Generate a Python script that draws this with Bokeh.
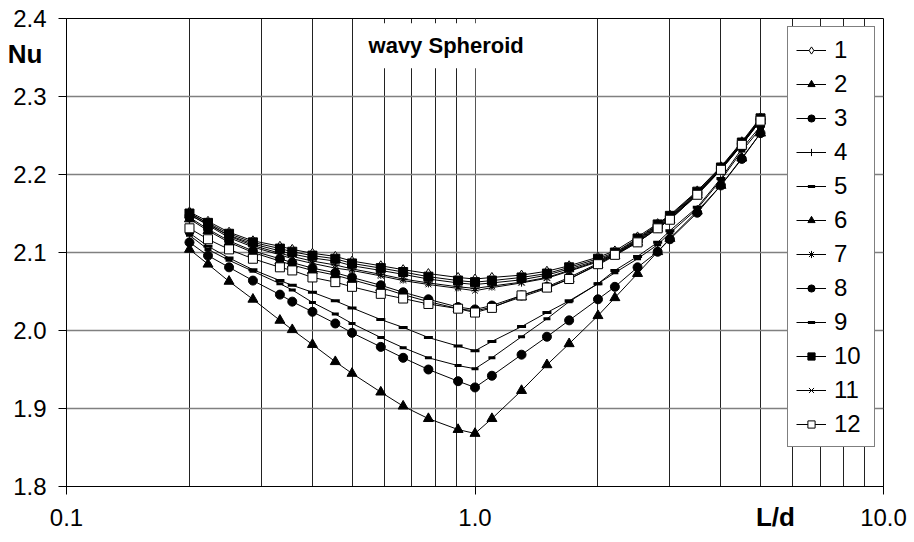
from bokeh.plotting import figure
from bokeh.models import Range1d, FixedTicker, PrintfTickFormatter, Label, LinearAxis, LogAxis
from bokeh.embed import file_html
from bokeh.resources import INLINE

# L/d values
ld = [0.2, 0.222, 0.25, 0.286, 0.333, 0.357, 0.4, 0.455, 0.5, 0.588, 0.667, 0.769, 0.909,
      1.0, 1.1, 1.3, 1.5, 1.7, 2.0, 2.2, 2.5, 2.8, 3.0, 3.5, 4.0, 4.5, 5.0]

nu1 = [2.152, 2.140, 2.126, 2.115, 2.108, 2.104, 2.099, 2.095, 2.089, 2.083, 2.078, 2.073, 2.068,
       2.066, 2.068, 2.071, 2.076, 2.083, 2.094, 2.102, 2.120, 2.137, 2.148, 2.179, 2.210, 2.242, 2.273]
nu2 = [2.143, 2.128, 2.113, 2.100, 2.089, 2.084, 2.077, 2.071, 2.065, 2.055, 2.046, 2.037, 2.028,
       2.025, 2.030, 2.043, 2.054, 2.066, 2.084, 2.096, 2.113, 2.131, 2.142, 2.174, 2.206, 2.238, 2.269]
nu3 = [2.145, 2.130, 2.115, 2.102, 2.092, 2.087, 2.080, 2.074, 2.068, 2.058, 2.049, 2.040, 2.030,
       2.027, 2.032, 2.045, 2.056, 2.068, 2.086, 2.098, 2.114, 2.132, 2.143, 2.175, 2.207, 2.239, 2.270]
nu4 = [2.148, 2.136, 2.122, 2.111, 2.102, 2.098, 2.093, 2.089, 2.083, 2.077, 2.072, 2.066, 2.061,
       2.059, 2.061, 2.065, 2.071, 2.079, 2.090, 2.099, 2.117, 2.135, 2.146, 2.177, 2.208, 2.240, 2.271]
nu5 = [2.125, 2.108, 2.093, 2.078, 2.064, 2.058, 2.049, 2.038, 2.029, 2.014, 2.004, 1.991, 1.980,
       1.974, 1.986, 2.005, 2.023, 2.038, 2.060, 2.077, 2.095, 2.113, 2.128, 2.158, 2.195, 2.233, 2.262]
nu6 = [2.104, 2.085, 2.063, 2.040, 2.013, 2.001, 1.982, 1.960, 1.945, 1.921, 1.903, 1.887, 1.873,
       1.868, 1.887, 1.923, 1.956, 1.983, 2.019, 2.042, 2.073, 2.101, 2.118, 2.153, 2.186, 2.221, 2.253]
nu7 = [2.151, 2.137, 2.121, 2.109, 2.099, 2.095, 2.089, 2.084, 2.079, 2.072, 2.066, 2.061, 2.056,
       2.054, 2.057, 2.062, 2.068, 2.077, 2.089, 2.098, 2.116, 2.134, 2.145, 2.176, 2.208, 2.240, 2.271]
nu8 = [2.113, 2.096, 2.081, 2.064, 2.046, 2.037, 2.024, 2.009, 1.997, 1.979, 1.965, 1.950, 1.935,
       1.927, 1.942, 1.969, 1.992, 2.013, 2.040, 2.056, 2.081, 2.101, 2.117, 2.151, 2.186, 2.220, 2.253]
nu9 = [2.122, 2.104, 2.090, 2.076, 2.060, 2.052, 2.036, 2.021, 2.009, 1.991, 1.978, 1.965, 1.955,
       1.951, 1.965, 1.992, 2.015, 2.037, 2.060, 2.074, 2.092, 2.110, 2.125, 2.156, 2.193, 2.230, 2.259]
nu10 = [2.150, 2.138, 2.124, 2.113, 2.105, 2.101, 2.096, 2.092, 2.086, 2.080, 2.075, 2.069, 2.064,
        2.062, 2.064, 2.068, 2.073, 2.081, 2.092, 2.100, 2.118, 2.136, 2.147, 2.178, 2.209, 2.241, 2.272]
nu11 = [2.149, 2.135, 2.119, 2.107, 2.097, 2.092, 2.086, 2.080, 2.077, 2.070, 2.064, 2.059, 2.054,
        2.051, 2.055, 2.061, 2.067, 2.076, 2.088, 2.097, 2.115, 2.133, 2.144, 2.175, 2.207, 2.239, 2.270]
nu12 = [2.131, 2.117, 2.104, 2.092, 2.081, 2.077, 2.068, 2.062, 2.056, 2.047, 2.041, 2.034, 2.028,
        2.023, 2.029, 2.045, 2.055, 2.066, 2.085, 2.097, 2.113, 2.131, 2.142, 2.174, 2.206, 2.238, 2.269]

series_names = ["1", "2", "3", "4", "5", "6", "7", "8", "9", "10", "11", "12"]
series_values = [nu1, nu2, nu3, nu4, nu5, nu6, nu7, nu8, nu9, nu10, nu11, nu12]

x_major = [0.1, 1.0, 10.0]
x_minor = [0.2, 0.3, 0.4, 0.5, 0.6, 0.7, 0.8, 0.9, 2, 3, 4, 5, 6, 7, 8, 9]
y_ticks = [1.8, 1.9, 2.0, 2.1, 2.2, 2.3, 2.4]

# positions of the axis names (data coordinates)
nu_label_y = 2.355
ld_label_x = 5.44

# marker styles: (marker, size, fill, line_width)
styles = [
    ("diamond", 10, "white", 1),
    ("triangle", 10, "black", 1),
    ("circle", 9, "black", 1),
    ("cross", 10, None, 1),
    ("dash", 9, None, 3),
    ("triangle", 10, "black", 1),
    ("asterisk", 9, None, 1),
    ("circle", 9, "black", 1),
    ("dash", 7, None, 3),
    ("square", 9, "black", 1),
    ("x", 8, None, 1),
    ("square", 9, "white", 1),
]

FONT = "Liberation Sans"

p = figure(width=908, height=539, x_axis_type="log",
           x_range=Range1d(0.1, 10), y_range=Range1d(1.8, 2.4),
           output_backend="svg", toolbar_location=None,
           min_border_left=66, min_border_right=25, min_border_top=18, min_border_bottom=53)

p.outline_line_color = "black"
p.outline_line_width = 1
p.background_fill_color = "white"

xt = FixedTicker(ticks=x_major, minor_ticks=x_minor)
p.xaxis.ticker = xt
p.xgrid.ticker = xt
p.xaxis.formatter = PrintfTickFormatter(format="%.1f")
p.yaxis.ticker = FixedTicker(ticks=y_ticks)
p.ygrid.ticker = FixedTicker(ticks=y_ticks)
p.yaxis.formatter = PrintfTickFormatter(format="%.1f")

for ax in (p.xaxis[0], p.yaxis[0]):
    ax.axis_line_color = "black"
    ax.major_tick_line_color = "black"
    ax.major_tick_out = 8
    ax.major_tick_in = 0
    ax.minor_tick_out = 0
    ax.minor_tick_in = 0
    ax.major_label_text_font = FONT
    ax.major_label_text_font_size = "24px"
    ax.major_label_text_color = "black"
p.xaxis.major_label_standoff = 14
p.yaxis.major_label_standoff = 12

p.xgrid.grid_line_color = "#555555"
p.xgrid.minor_grid_line_color = "#222222"
p.xgrid.minor_grid_line_width = 1
p.ygrid.grid_line_color = "#808080"
p.ygrid.grid_line_width = 1.5

for name, vals, (mk, sz, fill, lw) in zip(series_names, series_values, styles):
    p.line(ld, vals, line_color="black", line_width=1, legend_label=name)
    kw = dict(marker=mk, size=sz, line_color="black", line_width=lw, legend_label=name)
    if fill is None:
        kw["fill_alpha"] = 0
    else:
        kw["fill_color"] = fill
    p.scatter(ld, vals, **kw)

leg = p.legend[0]
leg.location = "top_right"
leg.margin = 8
leg.border_line_color = "black"
leg.border_line_width = 1
leg.background_fill_color = "white"
leg.background_fill_alpha = 1
leg.label_text_font = FONT
leg.label_text_font_size = "24px"
leg.label_text_color = "black"
leg.label_height = 29
leg.glyph_height = 18
leg.glyph_width = 30
leg.label_standoff = 8
leg.spacing = 5
leg.padding = 8
leg.label_width = 32

title = Label(x=0.85, y=2.365, text="wavy Spheroid", text_font=FONT, text_font_style="bold",
              text_font_size="22px", text_color="black", text_align="center",
              text_baseline="middle", background_fill_color="white", padding=10)
p.add_layout(title)

# axis names as extra (tick-less) axes so they sit outside the frame
nu_axis = LinearAxis(ticker=FixedTicker(ticks=[nu_label_y]),
                     major_label_overrides={nu_label_y: "Nu"},
                     axis_line_color=None, major_tick_line_color=None,
                     minor_tick_line_color=None, major_tick_out=0, major_tick_in=0,
                     major_label_standoff=-32,
                     major_label_text_font=FONT, major_label_text_font_style="bold",
                     major_label_text_font_size="26px", major_label_text_color="black")
p.add_layout(nu_axis, "left")

ld_axis = LogAxis(ticker=FixedTicker(ticks=[ld_label_x]),
                  major_label_overrides={ld_label_x: "L/d"},
                  axis_line_color=None, major_tick_line_color=None,
                  minor_tick_line_color=None, major_tick_out=0, major_tick_in=0,
                  major_label_standoff=-27,
                  major_label_text_font=FONT, major_label_text_font_style="bold",
                  major_label_text_font_size="26px", major_label_text_color="black")
p.add_layout(ld_axis, "below")

open("out.html", "w").write(file_html(p, INLINE))
